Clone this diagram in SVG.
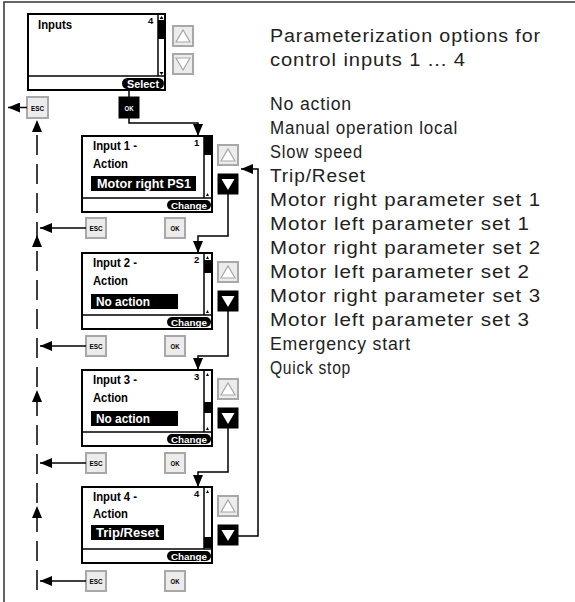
<svg xmlns="http://www.w3.org/2000/svg" width="575" height="602" viewBox="0 0 575 602">
<defs>
<style>
.scr{fill:#fff;stroke:#000;stroke-width:2}
.sep{stroke:#000;stroke-width:1.5}
.t{font-family:"Liberation Sans Narrow","Liberation Sans",Arial,sans-serif;font-weight:bold;fill:#000}
.w{fill:#fff}
.btn{fill:#ececec;stroke:#a8a8a8;stroke-width:2}
.btnk{fill:#000;stroke:#000;stroke-width:1}
.tri{fill:#fff;stroke:#a8a8a8;stroke-width:1.2}
.ln{stroke:#000;stroke-width:1.5;fill:none}
.dash{stroke:#000;stroke-width:1.5;fill:none;stroke-dasharray:20 9}
.r{font-family:"Liberation Sans",Arial,sans-serif;font-size:17.5px;letter-spacing:0.8px;fill:#222}
.frame{stroke:#333;stroke-width:1.5;fill:none}
</style>
<marker id="ah" markerUnits="userSpaceOnUse" markerWidth="12" markerHeight="10" refX="12" refY="5" orient="auto">
<path d="M0,0 L12,5 L0,10 z" fill="#000"/>
</marker>
</defs>

<path class="frame" d="M4,602 V2 H575"/>

<g id="inputs-screen">
<rect class="scr" x="28" y="14" width="137" height="76"/>
<line class="sep" x1="28" y1="76" x2="165" y2="76"/>
<line class="sep" x1="158" y1="14" x2="158" y2="76"/>
<rect x="158" y="20" width="7" height="19" fill="#000"/>
<path d="M159.5,19 L161.5,16 L163.5,19 z M159.5,72 L161.5,75 L163.5,72 z" fill="#000"/>
<text class="t" x="38" y="29" font-size="12.5" textLength="34" lengthAdjust="spacingAndGlyphs">Inputs</text>
<text class="t" x="148" y="24" font-size="9.5">4</text>
<rect x="122" y="78" width="42" height="11" rx="5.5" fill="#000"/>
<text class="t w" x="143" y="87.5" font-size="10" text-anchor="middle" textLength="32" lengthAdjust="spacingAndGlyphs">Select</text>
<rect class="btn" x="173" y="26" width="20" height="20"/>
<path class="tri" d="M176,42 L190,42 L183,30 z"/>
<rect class="btn" x="173" y="54" width="20" height="20"/>
<path class="tri" d="M176,58 L190,58 L183,70 z"/>
<rect class="btn" x="27" y="97" width="21" height="21"/>
<text class="t" x="37.5" y="110.5" font-size="7.5" text-anchor="middle" textLength="13" lengthAdjust="spacingAndGlyphs">ESC</text>
<rect class="btnk" x="119" y="97" width="20" height="21"/>
<text class="t w" x="129" y="110.5" font-size="7.5" text-anchor="middle" textLength="9" lengthAdjust="spacingAndGlyphs">OK</text>
</g>

<g id="input1">
<rect class="scr" x="82" y="136" width="130" height="76"/>
<line class="sep" x1="82" y1="198" x2="212" y2="198"/>
<line class="sep" x1="204" y1="136" x2="204" y2="198"/>
<rect x="204" y="137" width="7" height="18" fill="#000"/>
<path d="M206,196 L207.5,193 L209,196 z" fill="#000"/>
<text class="t" x="194" y="146" font-size="9.5">1</text>
<text class="t" x="93" y="150" font-size="12.5" textLength="44" lengthAdjust="spacingAndGlyphs">Input 1 -</text>
<text class="t" x="93" y="168" font-size="12.5" textLength="35" lengthAdjust="spacingAndGlyphs">Action</text>
<rect x="91" y="176" width="105" height="15" fill="#000"/>
<text class="t w" x="97" y="188" font-size="12.5" textLength="94" lengthAdjust="spacingAndGlyphs">Motor right PS1</text>
<rect x="167" y="200" width="44" height="10" rx="5" fill="#000"/>
<text class="t w" x="189" y="208.5" font-size="9.5" text-anchor="middle" textLength="36" lengthAdjust="spacingAndGlyphs">Change</text>
<rect class="btn" x="218" y="145" width="20" height="20"/>
<path class="tri" d="M221,161 L235,161 L228,149 z"/>
<rect class="btnk" x="218" y="174" width="20" height="20"/>
<path d="M221.5,179 L234.5,179 L228,190 z" fill="#fff"/>
<rect class="btn" x="86" y="218" width="20" height="20"/>
<text class="t" x="96" y="231" font-size="7.5" text-anchor="middle" textLength="13" lengthAdjust="spacingAndGlyphs">ESC</text>
<rect class="btn" x="165" y="218" width="20" height="20"/>
<text class="t" x="175" y="231" font-size="7.5" text-anchor="middle" textLength="9" lengthAdjust="spacingAndGlyphs">OK</text>
</g>

<g id="input2">
<rect class="scr" x="82" y="253" width="130" height="76"/>
<line class="sep" x1="82" y1="315" x2="212" y2="315"/>
<line class="sep" x1="204" y1="253" x2="204" y2="315"/>
<rect x="204" y="260" width="7" height="13" fill="#000"/>
<path d="M206,259 L207.5,256 L209,259 z M206,313 L207.5,310 L209,313 z" fill="#000"/>
<text class="t" x="194" y="263" font-size="9.5">2</text>
<text class="t" x="93" y="267" font-size="12.5" textLength="44" lengthAdjust="spacingAndGlyphs">Input 2 -</text>
<text class="t" x="93" y="285" font-size="12.5" textLength="35" lengthAdjust="spacingAndGlyphs">Action</text>
<rect x="91" y="294" width="87" height="15" fill="#000"/>
<text class="t w" x="96" y="306" font-size="12.5" textLength="54" lengthAdjust="spacingAndGlyphs">No action</text>
<rect x="167" y="317" width="44" height="10" rx="5" fill="#000"/>
<text class="t w" x="189" y="325.5" font-size="9.5" text-anchor="middle" textLength="36" lengthAdjust="spacingAndGlyphs">Change</text>
<rect class="btn" x="218" y="262" width="20" height="20"/>
<path class="tri" d="M221,278 L235,278 L228,266 z"/>
<rect class="btnk" x="218" y="291" width="20" height="20"/>
<path d="M221.5,296 L234.5,296 L228,307 z" fill="#fff"/>
<rect class="btn" x="86" y="336" width="20" height="20"/>
<text class="t" x="96" y="349" font-size="7.5" text-anchor="middle" textLength="13" lengthAdjust="spacingAndGlyphs">ESC</text>
<rect class="btn" x="165" y="336" width="20" height="20"/>
<text class="t" x="175" y="349" font-size="7.5" text-anchor="middle" textLength="9" lengthAdjust="spacingAndGlyphs">OK</text>
</g>

<g id="input3">
<rect class="scr" x="82" y="370" width="130" height="76"/>
<line class="sep" x1="82" y1="432" x2="212" y2="432"/>
<line class="sep" x1="204" y1="370" x2="204" y2="432"/>
<rect x="204" y="402" width="7" height="11" fill="#000"/>
<path d="M206,376 L207.5,373 L209,376 z M206,430 L207.5,427 L209,430 z" fill="#000"/>
<text class="t" x="194" y="380" font-size="9.5">3</text>
<text class="t" x="93" y="384" font-size="12.5" textLength="44" lengthAdjust="spacingAndGlyphs">Input 3 -</text>
<text class="t" x="93" y="402" font-size="12.5" textLength="35" lengthAdjust="spacingAndGlyphs">Action</text>
<rect x="91" y="411" width="87" height="15" fill="#000"/>
<text class="t w" x="96" y="423" font-size="12.5" textLength="54" lengthAdjust="spacingAndGlyphs">No action</text>
<rect x="167" y="434" width="44" height="10" rx="5" fill="#000"/>
<text class="t w" x="189" y="442.5" font-size="9.5" text-anchor="middle" textLength="36" lengthAdjust="spacingAndGlyphs">Change</text>
<rect class="btn" x="218" y="379" width="20" height="20"/>
<path class="tri" d="M221,395 L235,395 L228,383 z"/>
<rect class="btnk" x="218" y="408" width="20" height="20"/>
<path d="M221.5,413 L234.5,413 L228,424 z" fill="#fff"/>
<rect class="btn" x="86" y="453" width="20" height="20"/>
<text class="t" x="96" y="466" font-size="7.5" text-anchor="middle" textLength="13" lengthAdjust="spacingAndGlyphs">ESC</text>
<rect class="btn" x="165" y="453" width="20" height="20"/>
<text class="t" x="175" y="466" font-size="7.5" text-anchor="middle" textLength="9" lengthAdjust="spacingAndGlyphs">OK</text>
</g>

<g id="input4">
<rect class="scr" x="82" y="487" width="130" height="76"/>
<line class="sep" x1="82" y1="549" x2="212" y2="549"/>
<line class="sep" x1="204" y1="487" x2="204" y2="549"/>
<rect x="204" y="537" width="7" height="11" fill="#000"/>
<path d="M206,493 L207.5,490 L209,493 z" fill="#000"/>
<text class="t" x="194" y="497" font-size="9.5">4</text>
<text class="t" x="93" y="501" font-size="12.5" textLength="44" lengthAdjust="spacingAndGlyphs">Input 4 -</text>
<text class="t" x="93" y="518" font-size="12.5" textLength="35" lengthAdjust="spacingAndGlyphs">Action</text>
<rect x="91" y="525" width="73" height="15" fill="#000"/>
<text class="t w" x="96" y="537" font-size="12.5" textLength="63" lengthAdjust="spacingAndGlyphs">Trip/Reset</text>
<rect x="167" y="551" width="44" height="10" rx="5" fill="#000"/>
<text class="t w" x="189" y="559.5" font-size="9.5" text-anchor="middle" textLength="36" lengthAdjust="spacingAndGlyphs">Change</text>
<rect class="btn" x="218" y="496" width="20" height="20"/>
<path class="tri" d="M221,512 L235,512 L228,500 z"/>
<rect class="btnk" x="218" y="525" width="20" height="20"/>
<path d="M221.5,530 L234.5,530 L228,541 z" fill="#fff"/>
<rect class="btn" x="86" y="571" width="20" height="20"/>
<text class="t" x="96" y="584" font-size="7.5" text-anchor="middle" textLength="13" lengthAdjust="spacingAndGlyphs">ESC</text>
<rect class="btn" x="165" y="571" width="20" height="20"/>
<text class="t" x="175" y="584" font-size="7.5" text-anchor="middle" textLength="9" lengthAdjust="spacingAndGlyphs">OK</text>
</g>

<g id="connectors">
<line class="ln" x1="27" y1="107.5" x2="8" y2="107.5" marker-end="url(#ah)"/>
<line class="ln" x1="129" y1="90" x2="129" y2="97"/>
<path class="ln" d="M129,118 V123 H198 V136" marker-end="url(#ah)"/>
<path class="ln" d="M228,194 V236 H198 V253" marker-end="url(#ah)"/>
<path class="ln" d="M228,311 V356 H198 V370" marker-end="url(#ah)"/>
<path class="ln" d="M228,428 V472 H198 V487" marker-end="url(#ah)"/>
<path class="ln" d="M238,536 H258 V169 H241" marker-end="url(#ah)"/>
<line class="ln" x1="86" y1="228" x2="40" y2="228" marker-end="url(#ah)"/>
<line class="ln" x1="86" y1="346" x2="40" y2="346" marker-end="url(#ah)"/>
<line class="ln" x1="86" y1="463" x2="40" y2="463" marker-end="url(#ah)"/>
<line class="ln" x1="86" y1="581" x2="40" y2="581" marker-end="url(#ah)"/>
<line class="dash" x1="37" y1="590" x2="37" y2="122"/>
<path d="M37,120 L32,132 L42,132 z M37,235 L32,247 L42,247 z M37,390 L32,402 L42,402 z M37,506 L32,518 L42,518 z" fill="#000"/>
</g>

<g id="options-text">
<text class="r" x="270" y="42" textLength="271" lengthAdjust="spacingAndGlyphs">Parameterization options for</text>
<text class="r" x="270" y="66" textLength="196" lengthAdjust="spacingAndGlyphs">control inputs 1 ... 4</text>
<text class="r" x="270" y="110" textLength="82" lengthAdjust="spacingAndGlyphs">No action</text>
<text class="r" x="270" y="134" textLength="188" lengthAdjust="spacingAndGlyphs">Manual operation local</text>
<text class="r" x="270" y="158" textLength="93" lengthAdjust="spacingAndGlyphs">Slow speed</text>
<text class="r" x="270" y="182" textLength="96" lengthAdjust="spacingAndGlyphs">Trip/Reset</text>
<text class="r" x="270" y="206" textLength="271" lengthAdjust="spacingAndGlyphs">Motor right parameter set 1</text>
<text class="r" x="270" y="230" textLength="260" lengthAdjust="spacingAndGlyphs">Motor left parameter set 1</text>
<text class="r" x="270" y="254" textLength="271" lengthAdjust="spacingAndGlyphs">Motor right parameter set 2</text>
<text class="r" x="270" y="278" textLength="260" lengthAdjust="spacingAndGlyphs">Motor left parameter set 2</text>
<text class="r" x="270" y="302" textLength="271" lengthAdjust="spacingAndGlyphs">Motor right parameter set 3</text>
<text class="r" x="270" y="326" textLength="260" lengthAdjust="spacingAndGlyphs">Motor left parameter set 3</text>
<text class="r" x="270" y="350" textLength="141" lengthAdjust="spacingAndGlyphs">Emergency start</text>
<text class="r" x="270" y="374" textLength="81" lengthAdjust="spacingAndGlyphs">Quick stop</text>
</g>
</svg>
